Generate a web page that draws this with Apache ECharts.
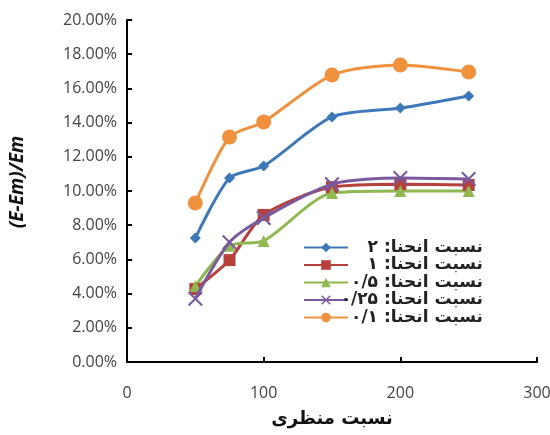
<!DOCTYPE html>
<html><head><meta charset="utf-8">
<script src="https://cdn.jsdelivr.net/npm/echarts@6/dist/echarts.min.js"></script>
<style>html,body{margin:0;padding:0;background:#fff}#c{width:550px;height:435px}</style>
</head><body><div id="c"></div>
<script>
const xValues = [50, 75, 100, 150, 200, 250];
const seriesNames = ['نسبت انحنا: ۲', 'نسبت انحنا: ۱', 'نسبت انحنا: ۰/۵', 'نسبت انحنا: ۰/۲۵', 'نسبت انحنا: ۰/۱'];
const ratio2 = [7.25, 10.76, 11.46, 14.33, 14.85, 15.56];
const ratio1 = [4.27, 5.96, 8.60, 10.23, 10.40, 10.35];
const ratio05 = [4.44, 6.80, 7.08, 9.88, 10.00, 10.00];
const ratio025 = [3.70, 7.00, 8.42, 10.40, 10.76, 10.70];
const ratio01 = [9.30, 13.16, 14.04, 16.78, 17.37, 16.96];
const xTicks = [0, 100, 200, 300];
const yTicks = [0, 2, 4, 6, 8, 10, 12, 14, 16, 18, 20];

const allData = [ratio2, ratio1, ratio05, ratio025, ratio01];
const colors = ['#3F78B8', '#B8403C', '#8FB850', '#7A5A9E', '#F0913E'];
const crossPath = 'path://M0,1L1,0L5,4L9,0L10,1L6,5L10,9L9,10L5,6L1,10L0,9L4,5Z';
const symbols = ['diamond', 'rect', 'triangle', crossPath, 'circle'];
const sizes = [11, 12, 12, 15, 15];

const chart = echarts.init(document.getElementById('c'), null, {renderer: 'canvas'});
chart.setOption({
  animation: false,
  backgroundColor: '#fff',
  grid: {left: 127, right: 13, top: 20, bottom: 73, containLabel: false, outerBoundsMode: 'none'},
  legend: {
    orient: 'vertical', left: 298, top: 234, itemWidth: 44, itemHeight: 12, itemGap: 0.5,
    data: seriesNames,
    formatter: n => '{a|' + n + '}',
    textStyle: {rich: {a: {width: 130, align: 'right', fontSize: 17, fontWeight: 'bold', fontFamily: 'DejaVu Sans', color: '#222', lineHeight: 17}}}
  },
  xAxis: {
    type: 'value', min: xTicks[0], max: xTicks[xTicks.length - 1], interval: 100,
    name: 'نسبت منظری', nameLocation: 'middle', nameGap: 48,
    nameTextStyle: {fontSize: 18, fontWeight: 'bold', fontFamily: 'DejaVu Sans', color: '#111'},
    axisLine: {lineStyle: {color: '#000', width: 2}},
    axisTick: {show: true, inside: true, length: 5, lineStyle: {color: '#000', width: 2}},
    axisLabel: {fontSize: 16, color: '#444', margin: 23, fontFamily: 'Open Sans'},
    splitLine: {show: false}
  },
  yAxis: {
    type: 'value', min: yTicks[0], max: yTicks[yTicks.length - 1], interval: 2,
    name: '(E-Em)/Em', nameLocation: 'middle', nameGap: 100, nameRotate: 90,
    nameTextStyle: {fontSize: 19, fontWeight: 'bold', fontStyle: 'italic', fontFamily: 'Open Sans', color: '#111', padding: [0, 0, 0, 18]},
    axisLine: {show: true, lineStyle: {color: '#000', width: 2}},
    axisTick: {show: true, inside: true, length: 5, lineStyle: {color: '#000', width: 2}},
    axisLabel: {fontSize: 16, color: '#444', margin: 10, fontFamily: 'Open Sans', formatter: v => v.toFixed(2) + '%'},
    splitLine: {show: false}
  },
  series: allData.map((d, i) => ({
    name: seriesNames[i], type: 'line', smooth: 0.25,
    data: xValues.map((x, j) => [x, d[j]]),
    symbol: symbols[i], symbolSize: sizes[i],
    lineStyle: {color: colors[i], width: 3},
    itemStyle: {color: colors[i]},
    z: 2 + (i === 3 ? 1 : 0)
  }))
});
</script></body></html>
